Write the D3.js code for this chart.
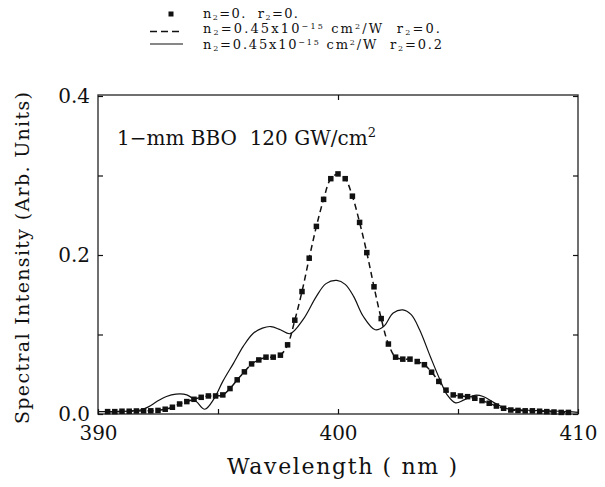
<!DOCTYPE html>
<html>
<head>
<meta charset="utf-8">
<script src="https://cdn.jsdelivr.net/npm/d3@7/dist/d3.min.js"></script>
<style>
  html, body { margin: 0; padding: 0; background: #fff; }
  svg { display: block; }
  text { font-family: "DejaVu Serif", "Liberation Serif", serif; fill: #111; }
</style>
</head>
<body>
<svg id="chart" width="605" height="487"></svg>
<script>
// Sampled spectrum, n2 = 0, r2 = 0 (square markers); the n2 = 0.45e-15 cm^2/W, r2 = 0
// dashed curve runs through the same samples.
const sampleWavelength = [
  390.4, 390.7, 391.0, 391.3, 391.6, 391.9, 392.2, 392.5, 392.8, 393.1, 393.4,
  393.7, 394.0, 394.3, 394.6, 394.9, 395.2, 395.5, 395.8, 396.1, 396.4, 396.7,
  397.0, 397.3, 397.6, 397.9, 398.2, 398.5, 398.8, 399.1, 399.4, 399.7, 400.0,
  400.3, 400.6, 400.9, 401.2, 401.5, 401.8, 402.1, 402.4, 402.7, 403.0, 403.3,
  403.6, 403.9, 404.2, 404.5, 404.8, 405.1, 405.4, 405.7, 406.0, 406.3, 406.6,
  406.9, 407.2, 407.5, 407.8, 408.1, 408.4, 408.7, 409.0, 409.3, 409.6
];
const sampleIntensity = [
  0.003, 0.003, 0.0035, 0.0035, 0.0038, 0.004, 0.004, 0.0045, 0.006, 0.0085, 0.0126,
  0.0156, 0.0185, 0.021, 0.0227, 0.0227, 0.024, 0.032, 0.043, 0.053, 0.063, 0.068,
  0.0715, 0.0715, 0.074, 0.087, 0.118, 0.154, 0.196, 0.236, 0.270, 0.296, 0.302,
  0.296, 0.274, 0.241, 0.203, 0.160, 0.120, 0.088, 0.0715, 0.069, 0.069, 0.066,
  0.062, 0.0526, 0.041, 0.030, 0.024, 0.0227, 0.0218, 0.0198, 0.0168, 0.0135, 0.010,
  0.0072, 0.005, 0.0045, 0.004, 0.004, 0.0035, 0.003, 0.0025, 0.002, 0.002
];

// n2 = 0.45e-15 cm^2/W, r2 = 0.2 (solid curve)
const solidWavelength = [
  390.0, 390.8, 391.4, 391.75, 392.1, 392.45, 392.85, 393.25, 393.7, 394.1, 394.45,
  394.85, 395.2, 395.65, 396.05, 396.45, 396.85, 397.2, 397.6, 398.0, 398.55, 399.1,
  399.5, 399.95, 400.3, 400.65, 401.05, 401.55, 401.9, 402.3, 402.7, 403.05, 403.4,
  403.85, 404.25, 404.55, 404.9, 405.25, 405.7, 406.05, 406.5, 407.0, 407.8, 408.8,
  409.6, 410.0
];
const solidIntensity = [
  0.003, 0.003, 0.004, 0.005, 0.009, 0.0156, 0.022, 0.025, 0.024, 0.0156, 0.006,
  0.020, 0.041, 0.064, 0.085, 0.101, 0.108, 0.110, 0.106, 0.101, 0.119, 0.148,
  0.164, 0.168, 0.163, 0.148, 0.123, 0.106, 0.110, 0.127, 0.131, 0.125, 0.106,
  0.072, 0.043, 0.024, 0.0140, 0.0177, 0.0235, 0.022, 0.0143, 0.007, 0.005, 0.004,
  0.003, 0.002
];

const xTicks = [390, 395, 400, 405, 410];
const xTickLabels = ["390", "", "400", "", "410"];
const yTicks = [0, 0.1, 0.2, 0.3, 0.4];
const yTickLabels = ["0.0", "", "0.2", "", "0.4"];

const svg = d3.select("#chart");
const plotLeft = 98, plotRight = 578, plotTop = 95, plotBottom = 414;

const x = d3.scaleLinear().domain([390, 410]).range([plotLeft, plotRight]);
const y = d3.scaleLinear().domain([0, 0.4]).range([plotBottom, plotTop + 1]);

const ink = "#111";

// frame
svg.append("rect")
  .attr("x", plotLeft).attr("y", plotTop)
  .attr("width", plotRight - plotLeft).attr("height", plotBottom - plotTop)
  .attr("fill", "none").attr("stroke", "#333").attr("stroke-width", 1.4);

// axes with inward ticks
const axisStyle = g => {
  g.select(".domain").remove();
  g.selectAll(".tick line").attr("stroke", ink).attr("stroke-width", 1.2);
  g.selectAll(".tick text").attr("fill", "#222")
    .style("font-family", '"DejaVu Serif", serif').style("font-size", "20px");
};

svg.append("g").attr("transform", `translate(0,${plotBottom})`)
  .call(d3.axisBottom(x).tickValues(xTicks).tickSize(-5).tickPadding(12)
    .tickFormat((d, i) => xTickLabels[i]))
  .call(axisStyle);

svg.append("g").attr("transform", `translate(0,${plotTop})`)
  .call(d3.axisTop(x).tickValues([400]).tickSize(-5).tickFormat(""))
  .call(axisStyle);

svg.append("g").attr("transform", `translate(${plotLeft},0)`)
  .call(d3.axisLeft(y).tickValues(yTicks).tickSize(-5).tickPadding(8)
    .tickFormat((d, i) => yTickLabels[i]))
  .call(axisStyle);

svg.append("g").attr("transform", `translate(${plotRight},0)`)
  .call(d3.axisRight(y).tickValues(yTicks).tickSize(-5).tickFormat(""))
  .call(axisStyle);

// axis titles
svg.append("text")
  .attr("x", 342).attr("y", 474)
  .attr("text-anchor", "middle")
  .attr("textLength", 230).attr("lengthAdjust", "spacing")
  .style("font-size", "22px")
  .text("Wavelength ( nm )");

svg.append("text")
  .attr("transform", "translate(29,258) rotate(-90)")
  .attr("text-anchor", "middle")
  .attr("textLength", 332).attr("lengthAdjust", "spacing")
  .style("font-size", "19px")
  .text("Spectral Intensity (Arb. Units)");

// curves
const samples = sampleWavelength.map((w, i) => [w, sampleIntensity[i]]);
const solid = solidWavelength.map((w, i) => [w, solidIntensity[i]]);

const line = d3.line()
  .x(d => x(d[0])).y(d => y(d[1]))
  .curve(d3.curveCatmullRom.alpha(0.5));

svg.append("path").datum(samples)
  .attr("d", line)
  .attr("fill", "none").attr("stroke", ink)
  .attr("stroke-width", 1.5).attr("stroke-dasharray", "6,4");

svg.append("path").datum(solid)
  .attr("d", line)
  .attr("fill", "none").attr("stroke", ink)
  .attr("stroke-width", 1.2);

const m = 5.5;
svg.append("g").selectAll("rect").data(samples).join("rect")
  .attr("x", d => x(d[0]) - m / 2).attr("y", d => y(d[1]) - m / 2)
  .attr("width", m).attr("height", m)
  .attr("fill", ink);

// annotation inside the plot
const note = svg.append("text").attr("x", 117).attr("y", 145).style("font-size", "20px");
note.append("tspan").text("1\u2212mm BBO\u00a0\u00a0120 GW/cm");
note.append("tspan").attr("dy", -8).style("font-size", "13px").text("2");

// legend
const lg = svg.append("g");
lg.append("rect").attr("x", 168.5).attr("y", 11.5).attr("width", 5).attr("height", 5).attr("fill", ink);
lg.append("line").attr("x1", 150).attr("x2", 179).attr("y1", 31.5).attr("y2", 31.5)
  .attr("stroke", ink).attr("stroke-width", 1.6).attr("stroke-dasharray", "7,4");
lg.append("line").attr("x1", 150).attr("x2", 183).attr("y1", 44).attr("y2", 44)
  .attr("stroke", ink).attr("stroke-width", 1.2);

const legendRows = [
  { y: 18, width: 95, parts: [["n"], ["2", "sub"], ["=0.\u00a0\u00a0r"], ["2", "sub"], ["=0."]] },
  { y: 33, width: 237, parts: [["n"], ["2", "sub"], ["=0.45x10"], ["\u221215", "sup"], ["\u00a0cm"], ["2", "sup"], ["/W\u00a0\u00a0r"], ["2", "sub"], ["=0."]] },
  { y: 49, width: 239, parts: [["n"], ["2", "sub"], ["=0.45x10"], ["\u221215", "sup"], ["\u00a0cm"], ["2", "sup"], ["/W\u00a0\u00a0r"], ["2", "sub"], ["=0.2"]] }
];
legendRows.forEach(row => {
  const t = lg.append("text").attr("x", 203).attr("y", row.y)
    .attr("textLength", row.width).attr("lengthAdjust", "spacing")
    .style("font-size", "13px");
  row.parts.forEach(([s, kind]) => {
    const ts = t.append("tspan").text(s);
    if (kind === "sub") ts.attr("y", row.y + 1.5).style("font-size", "8px");
    else if (kind === "sup") ts.attr("y", row.y - 4).style("font-size", "8px");
    else ts.attr("y", row.y);
  });
});
</script>
</body>
</html>
